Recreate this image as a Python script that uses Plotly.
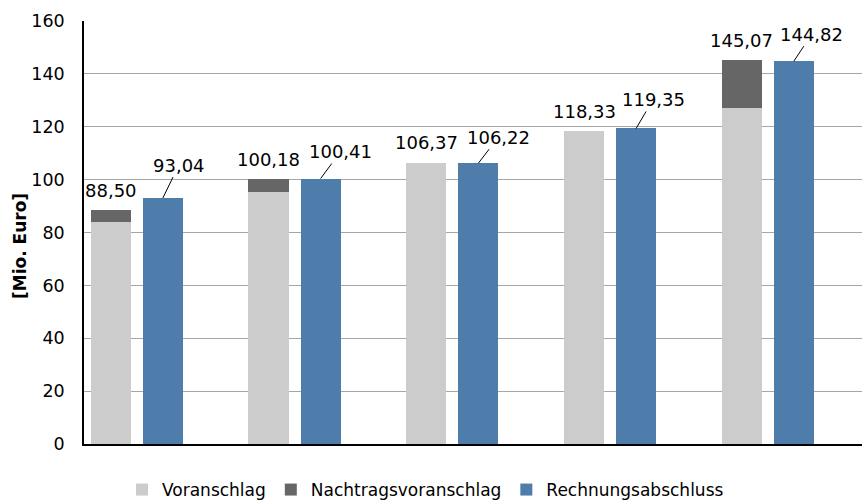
import plotly.graph_objects as go

# ---- data ----
groups = [0, 1, 2, 3, 4]
voranschlag = [84.00, 95.30, 106.37, 118.33, 127.10]
nachtrag = [4.50, 4.88, 0.00, 0.00, 17.97]
rechnungsabschluss = [93.04, 100.41, 106.22, 119.35, 144.82]
series_names = ["Voranschlag", "Nachtragsvoranschlag", "Rechnungsabschluss"]
y_ticks = [0, 20, 40, 60, 80, 100, 120, 140, 160]
y_title = "[Mio. Euro]"

# ---- styling ----
C_LIGHT = "#cccccc"
C_DARK = "#666666"
C_BLUE = "#4e7dab"
FONT = "DejaVu Sans, Verdana, sans-serif"
GRAY_OFF = -0.33
BLUE_OFF = 0.0
BW = 0.255
# leader-label offsets (pixels) for Rechnungsabschluss labels
lbl_dx = [16, 20, 20, 17, 18]
lbl_dy = [-33, -27, -26, -29, -27]


def fmt(v):
    return f"{v:.2f}".replace(".", ",")


xg = [g + GRAY_OFF for g in groups]
xb = [g + BLUE_OFF for g in groups]
totals = [a + b for a, b in zip(voranschlag, nachtrag)]

fig = go.Figure()
fig.add_trace(go.Bar(x=xg, y=voranschlag, width=BW, name=series_names[0],
                     marker=dict(color=C_LIGHT, line=dict(width=0))))
fig.add_trace(go.Bar(x=xg, y=nachtrag, width=BW, name=series_names[1],
                     marker=dict(color=C_DARK, line=dict(width=0))))
fig.add_trace(go.Bar(x=xb, y=rechnungsabschluss, width=BW, name=series_names[2],
                     marker=dict(color=C_BLUE, line=dict(width=0))))

annotations = []
for x, t in zip(xg, totals):
    annotations.append(dict(x=x, y=t, xref="x", yref="y", text=fmt(t),
                            showarrow=False, yanchor="middle", yshift=20,
                            font=dict(family=FONT, size=18, color="black")))
for i, (x, v) in enumerate(zip(xb, rechnungsabschluss)):
    annotations.append(dict(x=x, y=v, xref="x", yref="y", text=fmt(v),
                            showarrow=True, arrowhead=0, arrowwidth=1,
                            arrowcolor="black", ax=lbl_dx[i], ay=lbl_dy[i],
                            standoff=0, startstandoff=0,
                            font=dict(family=FONT, size=18, color="black")))
# y axis title
annotations.append(dict(x=-64 / 778, y=(444 - 246) / 423, xref="paper", yref="paper",
                        text="<b>" + y_title + "</b>", textangle=-90, showarrow=False,
                        xanchor="center", yanchor="middle",
                        font=dict(family=FONT, size=17, color="black")))

fig.update_layout(
    width=862, height=504,
    margin=dict(l=84, r=0, t=21, b=60, autoexpand=False),
    paper_bgcolor="white", plot_bgcolor="white",
    barmode="relative",
    bargap=0,
    showlegend=True,
    legend=dict(orientation="h", x=(122 - 84) / 778, xanchor="left",
                y=(444 - 490) / 423, yanchor="middle",
                font=dict(family=FONT, size=17, color="black"),
                traceorder="normal", itemclick=False),
    annotations=annotations,
    xaxis=dict(range=[-0.5, 4.432], showticklabels=False, ticks="",
               showgrid=False, zeroline=False, showline=True,
               linecolor="black", linewidth=1.5, fixedrange=True),
    yaxis=dict(range=[0, 160], tickvals=y_ticks, ticks="",
               showgrid=True, gridcolor="#a6a6a6", gridwidth=1,
               zeroline=False, showline=True, linecolor="black", linewidth=1.5,
               ticklabelstandoff=14,
               tickfont=dict(family=FONT, size=17.5, color="black"),
               fixedrange=True),
)

fig.write_html("out.html",
               config={"displayModeBar": False},
               post_script="document.body.style.margin='0px';document.body.style.overflow='hidden';")
